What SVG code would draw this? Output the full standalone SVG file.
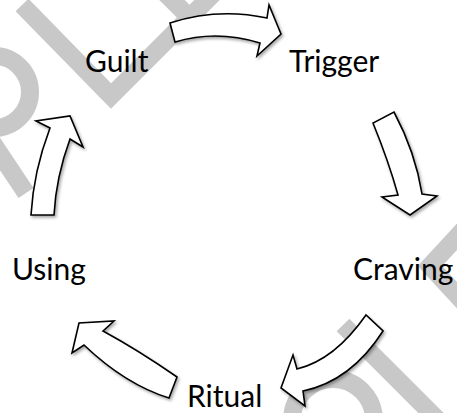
<svg xmlns="http://www.w3.org/2000/svg" width="457" height="413" viewBox="0 0 457 413">
<style>
.wm{fill:none;stroke:#c8c8c8;stroke-width:18;stroke-linecap:butt;stroke-linejoin:miter}
.arrow{fill:#ffffff;stroke:#000000;stroke-width:1.6;stroke-linejoin:miter;filter:url(#sh)}
.lbl{font-family:Lato,"Open Sans","Liberation Sans",sans-serif;font-size:30px;fill:#000000}
</style>
<defs>
<filter id="sh" x="-20%" y="-20%" width="150%" height="150%">
<feDropShadow dx="1.5" dy="2" stdDeviation="1.5" flood-color="#000000" flood-opacity="0.35"/>
</filter>
</defs>
<rect width="457" height="413" fill="#ffffff"/>
<g id="watermark">
<path class="wm" d="M22,5 L111,96 L215,-8"/>
<path class="wm" d="M160,-12 L190,18"/>
<path class="wm" d="M-6,56 A36,36 0 0 1 -6,128"/>
<path class="wm" d="M-20,124 L26,193"/>
<path class="wm" d="M465,228 L430,266 L465,304"/>
<path class="wm" d="M343,325 L440,422"/>
<circle class="wm" cx="333" cy="420" r="41"/>
</g>
<g id="connectors">
<path id="a-guilt-trigger" class="arrow" d="M170,23 L175,42 Q216.5,29.5 260,43 L257,56 L281,34 L269,5 L267,18 Q217.5,7.5 170,23 Z"/>
<path id="a-trigger-craving" class="arrow" d="M373,123 Q388.5,161 398,195 L382,197 L410,215 L437,196 L422,194 Q415.5,152.5 394,112 Z"/>
<path id="a-craving-ritual" class="arrow" d="M366,315 Q334.5,360 297,369 L293,355 L281,388 L305,406 L303,391 Q351,381 383,331 Z"/>
<path id="a-ritual-using" class="arrow" d="M177,377 Q138,350 103,331 L114,321 L79,323 L72,353 L84,345 Q125.5,384.5 169,398 Z"/>
<path id="a-using-guilt" class="arrow" d="M31,215 Q33.5,171.5 50,128 L36,121 L70,116 L83,147 L70,139 Q56,177 54,215 Z"/>
</g>
<g id="guilt"><text class="lbl" x="85" y="72">Guilt</text></g>
<g id="trigger"><text class="lbl" x="289" y="72">Trigger</text></g>
<g id="craving"><text class="lbl" x="353" y="280">Craving</text></g>
<g id="using"><text class="lbl" x="12" y="280">Using</text></g>
<g id="ritual"><text class="lbl" x="187" y="407">Ritual</text></g>
</svg>
